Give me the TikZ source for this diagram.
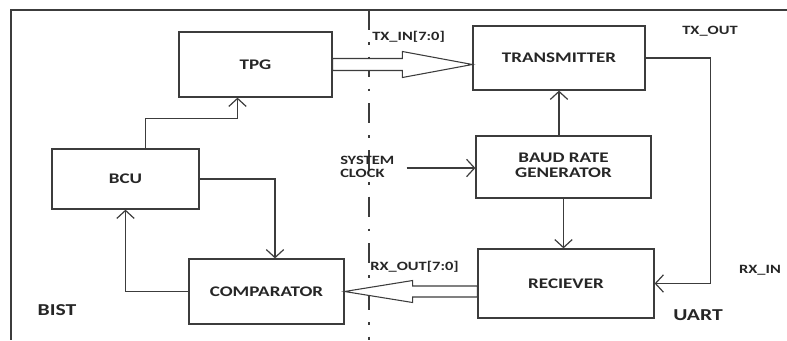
\documentclass[tikz,border=0pt]{standalone}
\usepackage{fontspec}
\usepackage{graphicx}
\usepackage{tikz}
\usetikzlibrary{arrows.meta,positioning,calc}
\newfontfamily\lblfont{Carlito}
\newcommand{\wide}[1]{\scalebox{1.3}[1]{#1}}
\definecolor{inkgray}{RGB}{60,60,60}

\begin{document}
\begin{tikzpicture}[
  x=0.75pt, y=-0.75pt,
  every node/.style={font=\lblfont\bfseries\fontsize{9.5}{10}\selectfont, text=black!85, inner sep=0pt},
  blk/.style={draw=inkgray, line width=0.9pt, fill=white, font=\lblfont\bfseries\fontsize{11}{11.5}\selectfont},
  big/.style={font=\lblfont\bfseries\fontsize{12.5}{14}\selectfont},
  arr/.style={-{Straight Barb[length=6pt,width=13pt]}, line width=0.9pt, inkgray},
  hollow/.style={line width=0.8pt, inkgray, fill=white, line join=miter}
]
  \useasboundingbox (0,0) rectangle (787,340);

  % Frame and BIST/UART divider
  \draw[inkgray, line width=0.9pt] (787,10) -- (11,10) -- (11,340);
  \draw[inkgray, line width=0.8pt, dash pattern=on 15pt off 9pt on 2pt off 9pt] (369,10) -- (369,340);

  % Nodes
  \node (tpg)  [blk, minimum width=114.75pt, minimum height=48.75pt] at (255.5,64.5) {\wide{TPG}};
  \node (tx)   [blk, minimum width=129pt,    minimum height=48pt]    at (559,58)     {\wide{TRANSMITTER}};
  \node (baud) [blk, minimum width=131.25pt, minimum height=46.5pt]  at (563.5,167)  {\wide{\begin{tabular}{@{}c@{}}BAUD RATE\\GENERATOR\end{tabular}}};
  \node (bcu)  [blk, minimum width=110.25pt, minimum height=45pt]    at (125.5,179)  {\wide{BCU}};
  \node (cmp)  [blk, minimum width=116.25pt, minimum height=48.75pt] at (266.5,291.5) {\wide{COMPARATOR}};
  \node (rx)   [blk, minimum width=132pt,    minimum height=51.75pt] at (566,283.5)  {\wide{RECIEVER}};

  % Labels
  \node (txin)  [anchor=west] at (372,37)  {\wide{TX\_IN[7:0]}};
  \node (txout) at (710,31)  {\wide{TX\_OUT}};
  \node (clk)   [anchor=west] at (340,168) {\wide{\begin{tabular}{@{}l@{}}SYSTEM\\CLOCK\end{tabular}}};
  \node (rxout) [anchor=west] at (370,267) {\wide{RX\_OUT[7:0]}};
  \node (rxin)  at (760,270) {\wide{RX\_IN}};
  \node (uart)  [big] at (698,315) {\wide{UART}};
  \node (bist)  [big] at (57,310)  {\wide{BIST}};

  % Buses
  \draw[hollow] (tpg.east -| tx.west) -- ++(-70,-13) -- ++(0,7) -- ($(tpg.east)+(0,-6)$)
    -- ($(tpg.east)+(0,6)$) -- ($(tpg.east -| tx.west)+(-70,6)$) -- ++(0,7) -- cycle;
  \draw[hollow] (cmp.east) -- ++(68,-11) -- ++(0,5.5) -- ($(cmp.east -| rx.west)+(0,-5.5)$)
    -- ($(cmp.east -| rx.west)+(0,5.5)$) -- ($(cmp.east)+(68,5.5)$) -- ++(0,5.5) -- cycle;

  % Paths
  \draw[arr] ($(bcu.north)+(20,0)$) |- ($(tpg.south)+(-18,21)$) -- ($(tpg.south)+(-18,0)$);
  \draw[arr] (bcu.east) -| ($(cmp.north)+(8.5,0)$);
  \draw[arr] (cmp.west) -| (bcu.south);
  \draw[arr] (baud.north -| tx.south) -- (tx.south);
  \draw[arr] (baud.south) -- (baud.south |- rx.north);
  \draw[arr] ($(clk.east)+(12,0)$) -- (clk.east -| baud.west);
  \draw[arr] (tx.east) -- ++(65,0) |- (rx.east);
\end{tikzpicture}
\end{document}
